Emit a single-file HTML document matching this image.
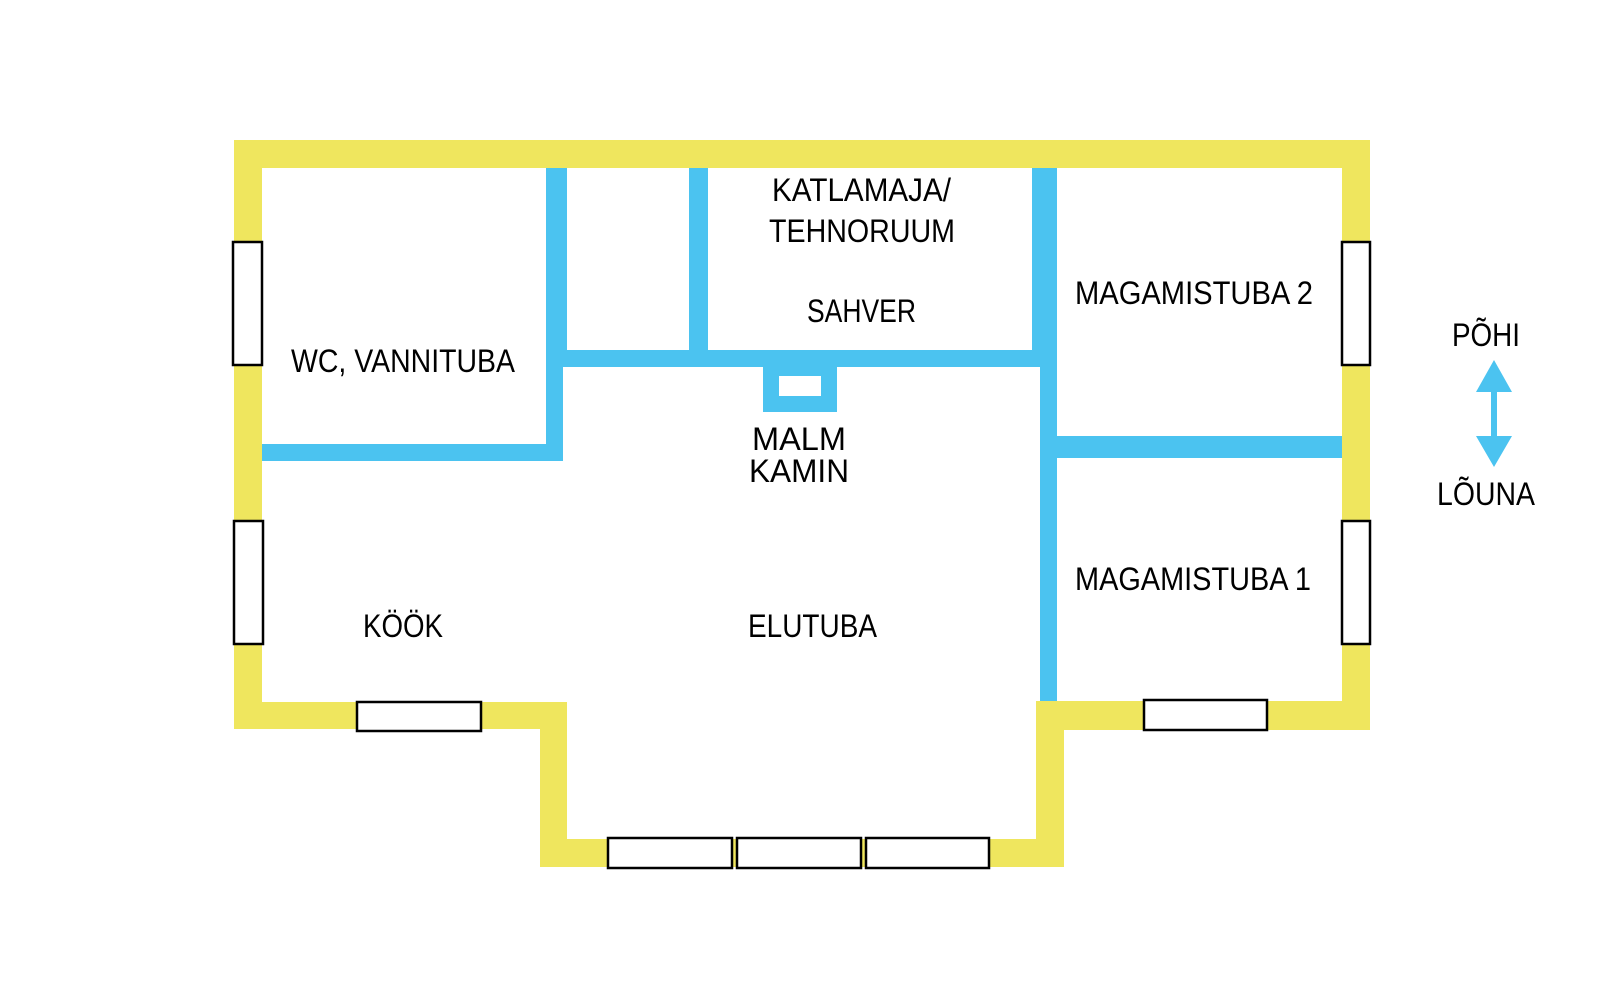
<!DOCTYPE html>
<html><head><meta charset="utf-8"><style>html,body{margin:0;padding:0;background:#fff}svg{display:block}</style></head>
<body>
<svg width="1603" height="992" viewBox="0 0 1603 992" xmlns="http://www.w3.org/2000/svg">
<g fill="#EFE65E">
<rect x="234" y="140" width="1136" height="28"/>
<rect x="234" y="140" width="28" height="589"/>
<rect x="1342" y="140" width="28" height="590"/>
<rect x="234" y="702" width="333" height="27"/>
<rect x="540" y="702" width="27" height="165"/>
<rect x="540" y="839" width="524" height="28"/>
<rect x="1036" y="701" width="28" height="166"/>
<rect x="1036" y="701" width="334" height="29"/>
</g>
<g fill="#4BC3F0">
<rect x="546" y="168" width="21" height="199"/>
<rect x="546" y="350" width="17" height="111"/>
<rect x="262" y="444" width="301" height="17"/>
<rect x="689" y="168" width="19" height="199"/>
<rect x="546" y="350" width="511" height="17"/>
<rect x="1032" y="168" width="25" height="199"/>
<rect x="1040" y="350" width="17" height="351"/>
<rect x="1040" y="436" width="302" height="22"/>
<rect x="763" y="366" width="74" height="46"/>
<rect x="1491" y="388" width="6" height="52"/>
<polygon points="1494,360 1476,392 1512,392"/>
<polygon points="1476,436 1512,436 1494,467"/>
</g>
<rect x="779" y="376" width="42" height="20" fill="#fff"/>
<g fill="#fff" stroke="#000" stroke-width="2.5">
<rect x="233" y="242" width="29" height="123"/>
<rect x="234" y="521" width="29" height="123"/>
<rect x="1342" y="242" width="28" height="123"/>
<rect x="1342" y="521" width="28" height="123"/>
<rect x="357" y="702" width="124" height="29"/>
<rect x="1144" y="700" width="123" height="30"/>
<rect x="608" y="838" width="124" height="30"/>
<rect x="737" y="838" width="124" height="30"/>
<rect x="866" y="838" width="123" height="30"/>
</g>
<g font-family="Liberation Sans, sans-serif" font-size="32" fill="#000" transform="translate(-3,-3)">
<text x="294" y="375" textLength="224" lengthAdjust="spacingAndGlyphs">WC, VANNITUBA</text>
<text x="775" y="204" textLength="179" lengthAdjust="spacingAndGlyphs">KATLAMAJA/</text>
<text x="772" y="245" textLength="186" lengthAdjust="spacingAndGlyphs">TEHNORUUM</text>
<text x="810" y="325" textLength="109" lengthAdjust="spacingAndGlyphs">SAHVER</text>
<text x="755" y="453" textLength="94" lengthAdjust="spacingAndGlyphs">MALM</text>
<text x="752" y="485" textLength="100" lengthAdjust="spacingAndGlyphs">KAMIN</text>
<text x="1078" y="307" textLength="238" lengthAdjust="spacingAndGlyphs">MAGAMISTUBA 2</text>
<text x="1078" y="593" textLength="236" lengthAdjust="spacingAndGlyphs">MAGAMISTUBA 1</text>
<text x="366" y="640" textLength="80" lengthAdjust="spacingAndGlyphs">KÖÖK</text>
<text x="751" y="640" textLength="129" lengthAdjust="spacingAndGlyphs">ELUTUBA</text>
<text x="1455" y="349" textLength="68" lengthAdjust="spacingAndGlyphs">PÕHI</text>
<text x="1440" y="508" textLength="98" lengthAdjust="spacingAndGlyphs">LÕUNA</text>
</g>
</svg>
</body></html>
